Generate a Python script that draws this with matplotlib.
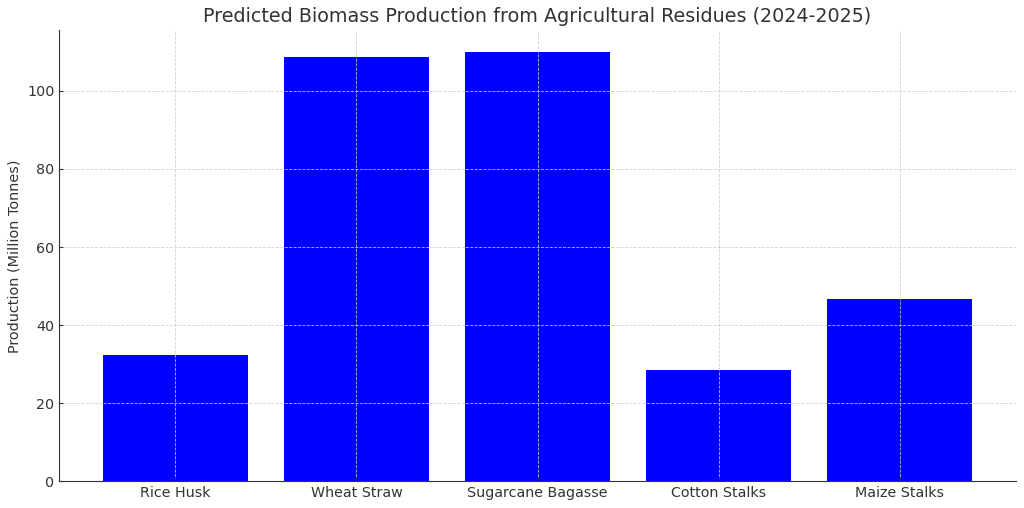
import matplotlib.pyplot as plt

# datos
residues = ['Rice Husk', 'Wheat Straw', 'Sugarcane Bagasse', 'Cotton Stalks', 'Maize Stalks']
production = [32.3, 108.7, 110.0, 28.5, 46.7]

plt.rcParams['text.color'] = '#333333'
plt.rcParams['axes.labelcolor'] = '#333333'
plt.rcParams['xtick.color'] = '#333333'
plt.rcParams['ytick.color'] = '#333333'

fig, ax = plt.subplots(figsize=(10.24, 5.08), dpi=100)
ax.bar(residues, production, color='blue', width=0.8)

ax.set_title('Predicted Biomass Production from Agricultural Residues (2024-2025)', fontsize=13.75)
ax.set_ylabel('Production (Million Tonnes)', fontsize=10.4)
ax.tick_params(direction='in', length=3, labelsize=10.3)
ax.grid(True, linestyle='--', linewidth=0.6, color='#cccccc', alpha=0.9)

ax.spines['top'].set_visible(False)
ax.spines['right'].set_visible(False)
ax.spines['left'].set_color('#333333')
ax.spines['bottom'].set_color('#333333')

plt.subplots_adjust(left=0.058, right=0.992, top=0.94, bottom=0.053)
plt.savefig('out.png')
